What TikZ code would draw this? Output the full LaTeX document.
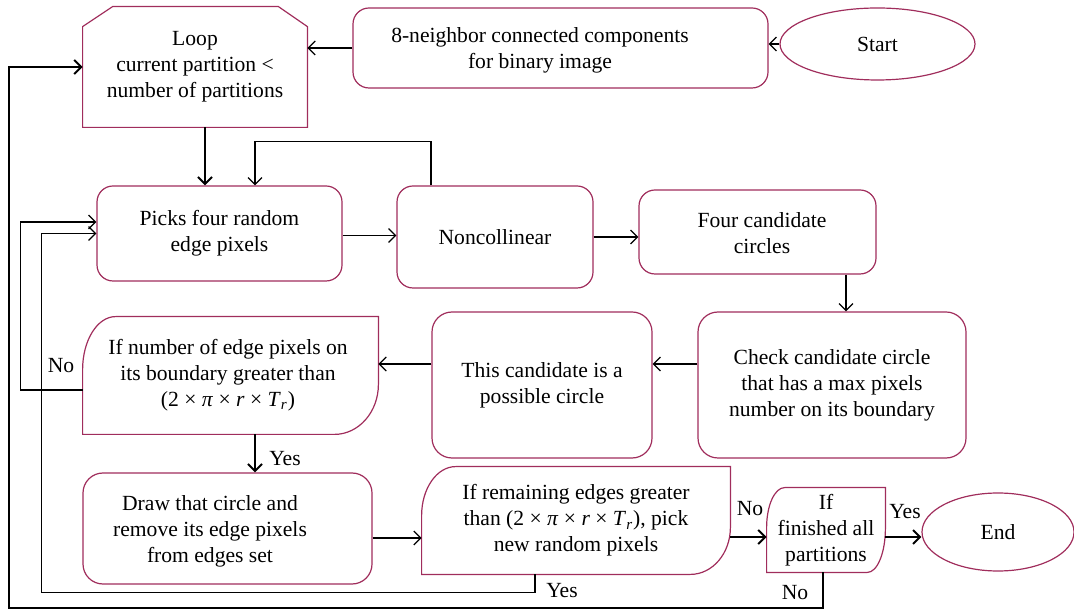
\documentclass[tikz,border=0pt]{standalone}
\usepackage{fontspec}
\setmainfont{Liberation Serif}
\usetikzlibrary{arrows.meta,shapes.geometric,calc}
\definecolor{boxc}{RGB}{160,45,92}
\begin{document}
\begin{tikzpicture}[x=0.5pt,y=-0.5pt,
  font=\fontsize{10.8}{13}\selectfont,
  box/.style={draw=boxc,line width=0.6pt,rounded corners=8pt,align=center,inner sep=0pt},
  shp/.style={align=center,inner sep=0pt},
  txt/.style={align=center,inner sep=0pt},
  outl/.style={draw=boxc,line width=0.6pt},
  ell/.style={ellipse,draw=boxc,line width=0.6pt,inner sep=0pt},
  arr/.style={line width=0.6pt,-{Straight Barb[length=3.5pt,width=7pt]}},
  tarr/.style={arr,line width=1pt},
  lbl/.style={inner sep=1pt}]
\useasboundingbox (0,0) rectangle (1074,613);

% nodes
\node[ell,minimum width=97.5pt,minimum height=36pt] (start) at (877.5,44) {Start};
\node[box,minimum width=207.5pt,minimum height=40pt] (nb) at (560.5,48) {};
\node[txt] (nbt) at (540,50) {8-neighbor connected components\\for binary image};
\node[shp,minimum width=112pt,minimum height=60pt] (loop) at (195,67) {Loop\\current partition <\\number of partitions};
\draw[outl] (loop.south west) -- ([yshift=-10pt]loop.north west) -- ([xshift=15pt]loop.north west)
  -- ([xshift=-14.5pt]loop.north east) -- ([yshift=-10pt]loop.north east) -- (loop.south east) -- cycle;
\node[box,minimum width=122.5pt,minimum height=47.5pt] (picks) at (219.5,233.5) {Picks four random\\edge pixels};
\node[box,minimum width=98pt,minimum height=51pt] (noncol) at (495,237) {Noncollinear};
\node[box,minimum width=118.5pt,minimum height=42pt] (four) at (757.5,232) {};
\node[txt] (fourt) at (762,233) {Four candidate\\circles};
\node[box,rounded corners=10pt,minimum width=134pt,minimum height=73pt] (check) at (832,385) {Check candidate circle\\that has a max pixels\\number on its boundary};
\node[box,rounded corners=10pt,minimum width=110pt,minimum height=73pt] (cand) at (542,385) {This candidate is a\\possible circle};
\node[shp,minimum width=147.5pt,minimum height=58.5pt] (ifnum) at (230.5,375.5) {};
\node[txt] (ifnumt) at (228,375) {If number of edge pixels on\\its boundary greater than\\(2 × \textit{π} × \textit{r} × \textit{T}\textsubscript{\textit{r}})};
\draw[outl] (ifnum.south west) -- ([yshift=-26.5pt]ifnum.north west)
  arc[start angle=180,end angle=90,x radius=16.5pt,y radius=26.5pt]
  -- (ifnum.north east) -- ([yshift=25pt]ifnum.south east)
  arc[start angle=0,end angle=-90,x radius=22pt,y radius=25pt] -- cycle;
\node[box,rounded corners=10pt,minimum width=144.5pt,minimum height=55.5pt] (drawc) at (227.5,528.5) {};
\node[txt] (drawt) at (210,531) {Draw that circle and\\remove its edge pixels\\from edges set};
\node[shp,minimum width=154pt,minimum height=53.5pt] (rem) at (576,520.5) {If remaining edges greater\\than (2 × \textit{π} × \textit{r} × \textit{T}\textsubscript{\textit{r}}), pick\\new random pixels};
\draw[outl] (rem.south west) -- ([yshift=-24.5pt]rem.north west)
  arc[start angle=180,end angle=90,x radius=17pt,y radius=24.5pt]
  -- (rem.north east) -- ([yshift=23.5pt]rem.south east)
  arc[start angle=0,end angle=-90,x radius=20pt,y radius=23.5pt] -- cycle;
\node[shp,minimum width=59pt,minimum height=42pt] (fin) at (826,530) {If\\finished all\\partitions};
\draw[outl] (fin.south west) -- ([yshift=-20pt]fin.north west)
  arc[start angle=180,end angle=90,x radius=9pt,y radius=20pt]
  -- (fin.north east) -- ([yshift=22pt]fin.south east)
  arc[start angle=0,end angle=-90,x radius=9pt,y radius=22pt] -- cycle;
\node[ell,minimum width=76pt,minimum height=39pt] (endn) at (998,532) {End};

% helper coordinates
\coordinate (j1) at ([xshift=-27.5pt]picks.west);
\coordinate (j2) at ([xshift=-37pt]loop.west);

% connectors
\draw[arr] (start.west) -- (start.west -| nb.east);
\draw[arr] (nb.west) -- (nb.west -| loop.east);
\draw[tarr] ([xshift=5pt]loop.south) -- ([xshift=5pt]loop.south |- picks.north);
\draw[arr] ([xshift=-32pt]noncol.north) -- ++(0,22pt) -| ([xshift=17.75pt]picks.north);
\draw[arr] ([yshift=-1pt]picks.east) -- ([yshift=-1pt]picks.east -| noncol.west);
\draw[arr] (noncol.east) -- (noncol.east -| four.west);
\draw[arr] ([xshift=44.25pt]four.south) -- ([xshift=44.25pt]four.south |- check.north);
\draw[arr] ([yshift=10.5pt]check.west) -- ([yshift=10.5pt]check.west -| cand.east);
\draw[arr] ([yshift=10.5pt]cand.west) -- ([yshift=10.5pt]cand.west -| ifnum.east);
\draw[arr] ([yshift=-7.25pt]ifnum.west) -- ++(-31pt,0) |- ([yshift=5.75pt]picks.west);
\draw[tarr] ([xshift=12.25pt]ifnum.south) -- ([xshift=12.25pt]ifnum.south |- drawc.north);
\draw[arr] ([yshift=-4.75pt]drawc.east) -- ([yshift=-4.75pt]drawc.east -| rem.west);
\draw[arr] ([xshift=-20.5pt]rem.south) -- ++(0,-9pt) -| (j1) -- (picks.west);
\draw[tarr] ([yshift=-8.25pt]rem.east) -- ([yshift=-8.25pt]rem.east -| fin.west);
\draw[tarr] ([yshift=-3.5pt]fin.east) -- ([yshift=-3.5pt]fin.east -| endn.west);
\draw[tarr] ([xshift=-1.5pt]fin.south) -- ++(0,-18pt) -| (j2) -- (loop.west);

% labels
\node[lbl] (l1) at (61,366) {No};
\node[lbl] (l2) at (285,459) {Yes};
\node[lbl] (l3) at (562,591) {Yes};
\node[lbl] (l4) at (750,509) {No};
\node[lbl] (l5) at (905,512) {Yes};
\node[lbl] (l6) at (795,593) {No};
\end{tikzpicture}
\end{document}
